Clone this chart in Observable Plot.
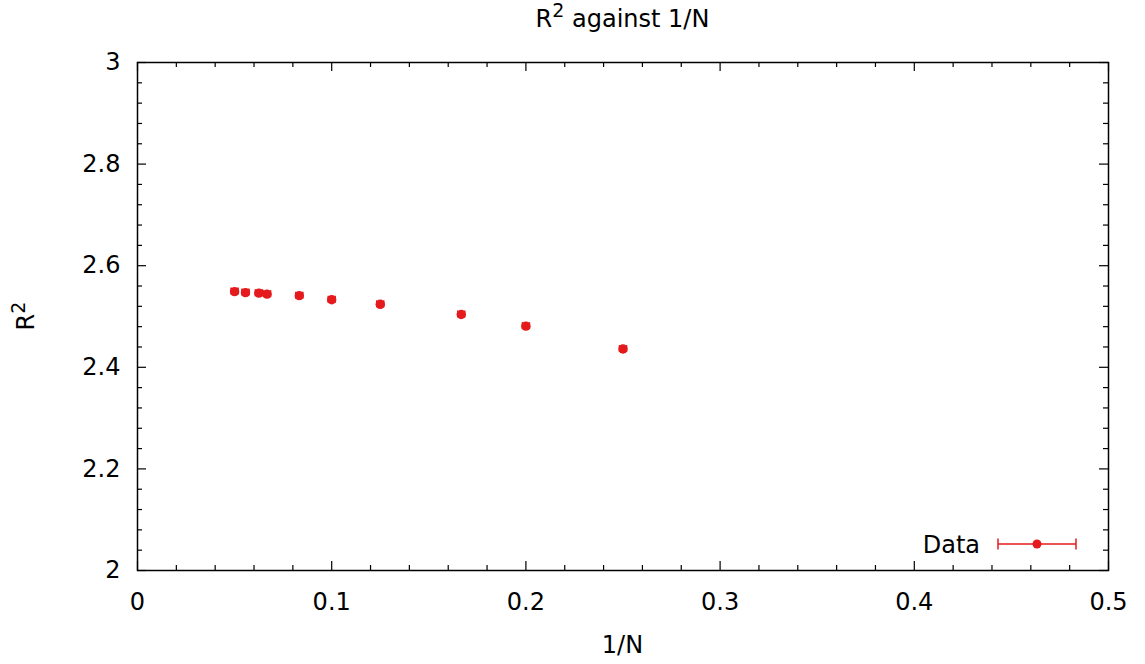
<!DOCTYPE html>
<html>
<head>
<meta charset="utf-8">
<script src="https://cdn.jsdelivr.net/npm/d3@7"></script>
<script src="https://cdn.jsdelivr.net/npm/@observablehq/plot@0.6"></script>
<style>
  html, body { margin: 0; padding: 0; background: #fff; }
  body { width: 1145px; height: 664px; overflow: hidden; font-family: "DejaVu Sans", sans-serif; }
  #title { height: 40px; width: 971px; padding-left: 137px; text-align: center; font-size: 24px; line-height: 38px; color: #000; }
  #title sup { font-size: 19px; line-height: 0; position: relative; top: -1px; }
  svg { display: block; }
</style>
</head>
<body>
<div id="title">R<sup>2</sup> against 1/N</div>
<div id="chart"></div>
<script>
// Data
const invN = [0.05, 0.0556, 0.0625, 0.0667, 0.0833, 0.1, 0.125, 0.1667, 0.2, 0.25];
const r2 = [2.549, 2.547, 2.546, 2.544, 2.541, 2.533, 2.524, 2.504, 2.481, 2.436];
const xerr = [0.0018, 0.0018, 0.0018, 0.0018, 0.0018, 0.0018, 0.0018, 0.0018, 0.0018, 0.0018];
const xMajor = [0, 0.1, 0.2, 0.3, 0.4, 0.5];
const xMinor = [0.02, 0.04, 0.06, 0.08, 0.12, 0.14, 0.16, 0.18, 0.22, 0.24, 0.26, 0.28, 0.32, 0.34, 0.36, 0.38, 0.42, 0.44, 0.46, 0.48];
const yMajor = [2, 2.2, 2.4, 2.6, 2.8, 3];
const yMinor = [2.04, 2.08, 2.12, 2.16, 2.24, 2.28, 2.32, 2.36, 2.44, 2.48, 2.52, 2.56, 2.64, 2.68, 2.72, 2.76, 2.84, 2.88, 2.92, 2.96];
const seriesName = "Data";
const xLabel = "1/N";
const yLabelBase = "R";
const yLabelSup = "2";

const data = invN.map((x, i) => ({x, y: r2[i], e: xerr[i]}));
const red = "#e41a1c";
const W = 1145, H = 624, mt = 22, mb = 94, ml = 137, mr = 37;
const plotH = H - mt - mb, plotW = W - ml - mr;
const majLen = 9, minLen = 5;

const chart = Plot.plot({
  width: W, height: H,
  marginTop: mt, marginBottom: mb, marginLeft: ml, marginRight: mr,
  style: {fontFamily: "DejaVu Sans", fontSize: "24px", color: "#000", background: "#fff"},
  x: {domain: [0, 0.5]},
  y: {domain: [2, 3]},
  marks: [
    Plot.axisX({ticks: xMajor, tickSize: 0, tickPadding: 22, tickFormat: d => d === 0 ? "0" : d3.format("~g")(d), label: null}),
    Plot.axisY({ticks: yMajor, tickSize: 0, tickPadding: 17, tickFormat: d => d3.format("~g")(d), label: null}),
    Plot.ruleX(xMajor, {x: d => d, insetTop: plotH - majLen, stroke: "#000", strokeWidth: 1.2}),
    Plot.ruleX(xMajor, {x: d => d, insetBottom: plotH - majLen, stroke: "#000", strokeWidth: 1.2}),
    Plot.ruleX(xMinor, {x: d => d, insetTop: plotH - minLen, stroke: "#000", strokeWidth: 1.2}),
    Plot.ruleX(xMinor, {x: d => d, insetBottom: plotH - minLen, stroke: "#000", strokeWidth: 1.2}),
    Plot.ruleY(yMajor, {y: d => d, insetRight: plotW - majLen, stroke: "#000", strokeWidth: 1.2}),
    Plot.ruleY(yMajor, {y: d => d, insetLeft: plotW - majLen, stroke: "#000", strokeWidth: 1.2}),
    Plot.ruleY(yMinor, {y: d => d, insetRight: plotW - minLen, stroke: "#000", strokeWidth: 1.2}),
    Plot.ruleY(yMinor, {y: d => d, insetLeft: plotW - minLen, stroke: "#000", strokeWidth: 1.2}),
    Plot.frame({stroke: "#000", strokeWidth: 1.5}),
    Plot.ruleY(data, {y: "y", x1: d => d.x - d.e, x2: d => d.x + d.e, stroke: red, strokeWidth: 1.5}),
    Plot.ruleX(data, {x: d => d.x - d.e, y1: "y", y2: "y", insetTop: -3.5, insetBottom: -3.5, stroke: red, strokeWidth: 1.5}),
    Plot.ruleX(data, {x: d => d.x + d.e, y1: "y", y2: "y", insetTop: -3.5, insetBottom: -3.5, stroke: red, strokeWidth: 1.5}),
    Plot.dot(data, {x: "x", y: "y", r: 4.7, fill: red, stroke: "none"})
  ]
});
document.getElementById("chart").appendChild(chart);

const svg = d3.select(chart);
svg.append("text").attr("x", ml + plotW / 2).attr("y", 613).attr("text-anchor", "middle")
  .attr("font-family", "DejaVu Sans").attr("font-size", 24).attr("fill", "#000").text(xLabel);
const yl = svg.append("text").attr("transform", `translate(34, ${mt + plotH / 2}) rotate(-90)`).attr("text-anchor", "middle")
  .attr("font-family", "DejaVu Sans").attr("font-size", 24).attr("fill", "#000");
yl.append("tspan").text(yLabelBase);
yl.append("tspan").attr("dy", -9).attr("font-size", 19).text(yLabelSup);
// legend
const ly = 504;
const lg = svg.append("g");
lg.append("text").attr("x", 980).attr("y", ly + 9).attr("text-anchor", "end")
  .attr("font-family", "DejaVu Sans").attr("font-size", 24).attr("fill", "#000").text(seriesName);
lg.append("line").attr("x1", 998).attr("x2", 1076).attr("y1", ly).attr("y2", ly).attr("stroke", red).attr("stroke-width", 1.5);
lg.append("line").attr("x1", 998).attr("x2", 998).attr("y1", ly - 5.5).attr("y2", ly + 5.5).attr("stroke", red).attr("stroke-width", 1.5);
lg.append("line").attr("x1", 1076).attr("x2", 1076).attr("y1", ly - 5.5).attr("y2", ly + 5.5).attr("stroke", red).attr("stroke-width", 1.5);
lg.append("circle").attr("cx", 1037).attr("cy", ly).attr("r", 4.5).attr("fill", red);
</script>
</body>
</html>
